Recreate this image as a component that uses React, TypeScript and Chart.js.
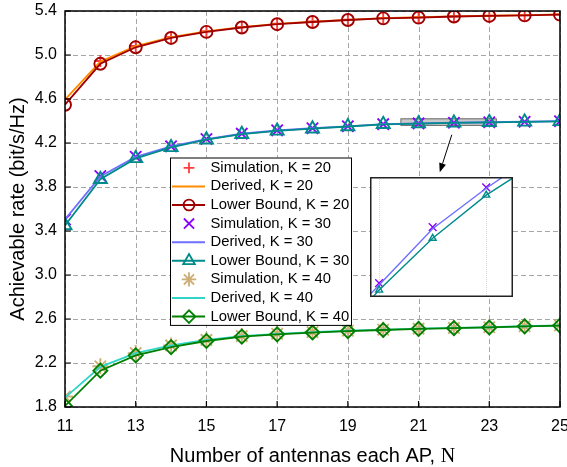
import { useEffect, useRef } from "react";
import { Chart, registerables } from "chart.js";
import { drawPoint } from "chart.js/helpers";

Chart.register(...registerables);

// ---------------- data ----------------
const antennas = [11, 12, 13, 14, 15, 16, 17, 18, 19, 20, 21, 22, 23, 24, 25];

const simK20 = [4.6, 4.945, 5.082, 5.163, 5.216, 5.255, 5.284, 5.304, 5.321, 5.336, 5.343, 5.352, 5.357, 5.362, 5.369];
const derivedK20 = [4.595, 4.94, 5.08, 5.162, 5.215, 5.254, 5.283, 5.303, 5.32, 5.335, 5.343, 5.352, 5.357, 5.362, 5.369];
const lowerK20 = [4.548, 4.92, 5.07, 5.155, 5.21, 5.25, 5.28, 5.3, 5.318, 5.333, 5.34, 5.35, 5.355, 5.36, 5.367];

const simK30 = [3.505, 3.9, 4.075, 4.17, 4.236, 4.285, 4.315, 4.334, 4.352, 4.371, 4.3778, 4.3843, 4.3889, 4.393, 4.398];
const derivedK30 = [3.505, 3.895, 4.075, 4.17, 4.235, 4.284, 4.314, 4.334, 4.352, 4.371, 4.3776, 4.3841, 4.3888, 4.393, 4.398];
const lowerK30 = [3.45, 3.87, 4.06, 4.16, 4.23, 4.28, 4.31, 4.33, 4.35, 4.37, 4.377, 4.383, 4.388, 4.392, 4.397];

const simK40 = [1.895, 2.17, 2.29, 2.36, 2.41, 2.445, 2.466, 2.481, 2.493, 2.503, 2.512, 2.519, 2.525, 2.534, 2.541];
const derivedK40 = [1.885, 2.165, 2.29, 2.36, 2.41, 2.445, 2.465, 2.48, 2.493, 2.503, 2.512, 2.519, 2.525, 2.534, 2.541];
const lowerK40 = [1.81, 2.13, 2.27, 2.345, 2.4, 2.44, 2.46, 2.477, 2.49, 2.5, 2.51, 2.517, 2.523, 2.533, 2.54];

const xTicks = [11, 13, 15, 17, 19, 21, 23, 25];
const yTicks = [1.8, 2.2, 2.6, 3.0, 3.4, 3.8, 4.2, 4.6, 5.0, 5.4];

const xTitleMain = "Number of antennas each AP, ";
const xTitleSymbol = "N";
const yTitle = "Achievable rate (bit/s/Hz)";

// zoomed region (data units) and inset ranges
const zoomBoxX = [20.5, 23.2];
const zoomBoxY = [4.36, 4.42];
const arrowFrom = [21.94, 4.275];
const arrowTo = [21.6, 3.934];
const insetXRange = [20.83, 23.5];
const insetYRange = [4.3762, 4.3901];
const insetGridX = [21, 23];

const FONT = '"Liberation Sans", Arial, Helvetica, sans-serif';
const SERIF = '"Liberation Serif", "Times New Roman", serif';

type Style = {
  color: string;
  line: boolean;
  point?: string;
  radius?: number;
  order: number;
};

function series(label: string, values: number[], s: Style) {
  return {
    label,
    data: antennas.map((n, i) => ({ x: n, y: values[i] })),
    showLine: s.line,
    borderColor: s.color,
    backgroundColor: "rgba(0,0,0,0)",
    borderWidth: 1.8,
    pointStyle: s.point || "circle",
    pointRadius: s.point ? s.radius || 6 : 0,
    pointBorderWidth: 1.9,
    pointBorderColor: s.color,
    pointBackgroundColor: "rgba(0,0,0,0)",
    pointHoverRadius: 0,
    order: s.order,
    tension: 0,
  };
}

const C = {
  sim20: "#ff3b3b",
  der20: "#ff8c00",
  low20: "#a00000",
  sim30: "#8b00ff",
  der30: "#6f6fff",
  low30: "#008b8b",
  sim40: "#cdae74",
  der40: "#30d5c8",
  low40: "#008000",
};

function buildDatasets() {
  return [
    series("Simulation, K = 20", simK20, { color: C.sim20, line: false, point: "cross", radius: 6, order: 3 }),
    series("Derived, K = 20", derivedK20, { color: C.der20, line: true, order: 2 }),
    series("Lower Bound, K = 20", lowerK20, { color: C.low20, line: true, point: "circle", radius: 6, order: 1 }),
    series("Simulation, K = 30", simK30, { color: C.sim30, line: false, point: "crossRot", radius: 8, order: 3 }),
    series("Derived, K = 30", derivedK30, { color: C.der30, line: true, order: 2 }),
    series("Lower Bound, K = 30", lowerK30, { color: C.low30, line: true, point: "triangle", radius: 7.5, order: 1 }),
    series("Simulation, K = 40", simK40, { color: C.sim40, line: false, point: "star", radius: 8, order: 3 }),
    series("Derived, K = 40", derivedK40, { color: C.der40, line: true, order: 2 }),
    series("Lower Bound, K = 40", lowerK40, { color: C.low40, line: true, point: "rectRot", radius: 7, order: 1 }),
  ];
}

const mainExtras = {
  id: "mainExtras",
  beforeDatasetsDraw(chart: any) {
    const { ctx, chartArea: a, scales } = chart;
    const x = scales.x, y = scales.y;
    ctx.save();
    // dashed grid
    ctx.strokeStyle = "#a6a6a6";
    ctx.lineWidth = 1;
    ctx.setLineDash([5, 3]);
    ctx.beginPath();
    xTicks.forEach((t) => {
      const px = Math.round(x.getPixelForValue(t)) + 0.5;
      ctx.moveTo(px, a.top);
      ctx.lineTo(px, a.bottom);
    });
    yTicks.forEach((t) => {
      const py = Math.round(y.getPixelForValue(t)) + 0.5;
      ctx.moveTo(a.left, py);
      ctx.lineTo(a.right, py);
    });
    ctx.stroke();
    ctx.setLineDash([]);
    // zoom rectangle
    const x1 = x.getPixelForValue(zoomBoxX[0]);
    const x2 = x.getPixelForValue(zoomBoxX[1]);
    const y1 = y.getPixelForValue(zoomBoxY[1]);
    const y2 = y.getPixelForValue(zoomBoxY[0]);
    ctx.fillStyle = "rgba(165,165,165,0.6)";
    ctx.fillRect(x1, y1, x2 - x1, y2 - y1);
    ctx.strokeStyle = "#6a6a6a";
    ctx.lineWidth = 1;
    ctx.strokeRect(x1, y1, x2 - x1, y2 - y1);
    ctx.restore();
  },
  afterDatasetsDraw(chart: any) {
    const { ctx, chartArea: a, scales, height } = chart;
    const x = scales.x, y = scales.y;
    ctx.save();
    // frame
    ctx.strokeStyle = "#000";
    ctx.lineWidth = 1.5;
    ctx.strokeRect(a.left, a.top, a.width, a.height);
    // inward ticks
    ctx.lineWidth = 1.2;
    ctx.beginPath();
    xTicks.forEach((t) => {
      const px = x.getPixelForValue(t);
      ctx.moveTo(px, a.bottom);
      ctx.lineTo(px, a.bottom - 6);
    });
    yTicks.forEach((t) => {
      const py = y.getPixelForValue(t);
      ctx.moveTo(a.left, py);
      ctx.lineTo(a.left + 6, py);
    });
    ctx.stroke();
    // arrow
    const ax1 = x.getPixelForValue(arrowFrom[0]);
    const ay1 = y.getPixelForValue(arrowFrom[1]);
    const ax2 = x.getPixelForValue(arrowTo[0]);
    const ay2 = y.getPixelForValue(arrowTo[1]);
    const ang = Math.atan2(ay2 - ay1, ax2 - ax1);
    const hl = 9, hw = 3.5;
    const bx = ax2 - Math.cos(ang) * hl;
    const by = ay2 - Math.sin(ang) * hl;
    ctx.strokeStyle = "#000";
    ctx.lineWidth = 1;
    ctx.beginPath();
    ctx.moveTo(ax1, ay1);
    ctx.lineTo(bx, by);
    ctx.stroke();
    ctx.fillStyle = "#000";
    ctx.beginPath();
    ctx.moveTo(ax2, ay2);
    ctx.lineTo(bx + Math.sin(ang) * hw, by - Math.cos(ang) * hw);
    ctx.lineTo(bx - Math.sin(ang) * hw, by + Math.cos(ang) * hw);
    ctx.closePath();
    ctx.fill();

    // x-axis title (sans text + serif symbol)
    ctx.fillStyle = "#000";
    ctx.textBaseline = "alphabetic";
    ctx.textAlign = "left";
    ctx.font = "20px " + FONT;
    const w1 = ctx.measureText(xTitleMain).width;
    ctx.font = "20px " + SERIF;
    const w2 = ctx.measureText(xTitleSymbol).width;
    const tx = (a.left + a.right) / 2 - (w1 + w2) / 2;
    const ty = height - 5.5;
    ctx.font = "20px " + FONT;
    ctx.fillText(xTitleMain, tx, ty);
    ctx.font = "20px " + SERIF;
    ctx.fillText(xTitleSymbol, tx + w1, ty);

    // legend
    const lx = 170, ly = 157.5, lw = 181, rowH = 18.6;
    const ds = chart.data.datasets;
    const lh = rowH * ds.length;
    ctx.fillStyle = "#fff";
    ctx.fillRect(lx, ly, lw, lh);
    ctx.strokeStyle = "#000";
    ctx.lineWidth = 1;
    ctx.strokeRect(lx + 0.5, ly + 0.5, lw, lh);
    ctx.font = "14.8px " + FONT;
    ctx.textBaseline = "middle";
    ds.forEach((d: any, i: number) => {
      const cy = ly + rowH * (i + 0.5) + 1;
      if (d.showLine) {
        ctx.strokeStyle = d.borderColor;
        ctx.lineWidth = 2;
        ctx.beginPath();
        ctx.moveTo(lx + 2, cy);
        ctx.lineTo(lx + 35, cy);
        ctx.stroke();
      }
      if (d.pointRadius > 0) {
        ctx.strokeStyle = d.pointBorderColor;
        ctx.fillStyle = "rgba(0,0,0,0)";
        ctx.lineWidth = 1.8;
        drawPoint(ctx, { pointStyle: d.pointStyle, radius: d.pointRadius * 0.9, rotation: 0, borderWidth: 1.8 }, lx + 19, cy);
      }
      ctx.fillStyle = "#000";
      ctx.fillText(d.label, lx + 40.5, cy);
    });
    ctx.restore();
  },
};

const insetExtras = {
  id: "insetExtras",
  beforeDraw(chart: any) {
    const { ctx, width, height } = chart;
    ctx.save();
    ctx.fillStyle = "#fff";
    ctx.fillRect(0, 0, width, height);
    ctx.restore();
  },
  beforeDatasetsDraw(chart: any) {
    const { ctx, chartArea: a, scales } = chart;
    ctx.save();
    ctx.strokeStyle = "#d6d6d6";
    ctx.lineWidth = 1;
    ctx.setLineDash([1, 1]);
    ctx.beginPath();
    insetGridX.forEach((t) => {
      const px = Math.round(scales.x.getPixelForValue(t)) + 0.5;
      ctx.moveTo(px, a.top);
      ctx.lineTo(px, a.bottom);
    });
    ctx.stroke();
    ctx.restore();
  },
  afterDatasetsDraw(chart: any) {
    const { ctx, width, height } = chart;
    ctx.save();
    ctx.strokeStyle = "#222";
    ctx.lineWidth = 1.5;
    ctx.strokeRect(0.75, 0.75, width - 1.5, height - 1.5);
    ctx.restore();
  },
};

export default function App() {
  const mainRef = useRef<HTMLCanvasElement>(null);
  const insetRef = useRef<HTMLCanvasElement>(null);

  useEffect(() => {
    document.body.style.margin = "0";
    const main = new Chart(mainRef.current as HTMLCanvasElement, {
      type: "scatter",
      data: { datasets: buildDatasets() as any },
      options: {
        animation: false,
        responsive: false,
        maintainAspectRatio: false,
        events: [],
        layout: { autoPadding: false, padding: { left: 0, right: 7, top: 11, bottom: 0 } },
        plugins: { legend: { display: false }, tooltip: { enabled: false } },
        scales: {
          x: {
            type: "linear",
            min: 11,
            max: 25,
            afterBuildTicks: (s: any) => {
              s.ticks = xTicks.map((v) => ({ value: v }));
            },
            afterFit: (s: any) => {
              s.height = 60;
              s.paddingLeft = 0;
              s.paddingRight = 0;
            },
            ticks: {
              color: "#000",
              font: { family: FONT, size: 16 },
              padding: 10,
              maxRotation: 0,
              autoSkip: false,
              callback: (v: any) => String(v),
            },
            grid: { display: false, drawTicks: false },
            border: { display: false },
            title: { display: false, text: xTitleMain + xTitleSymbol },
          },
          y: {
            type: "linear",
            min: 1.8,
            max: 5.4,
            afterBuildTicks: (s: any) => {
              s.ticks = yTicks.map((v) => ({ value: v }));
            },
            afterFit: (s: any) => {
              s.width = 65;
              s.paddingTop = 0;
              s.paddingBottom = 0;
            },
            ticks: {
              color: "#000",
              font: { family: FONT, size: 16 },
              padding: 8,
              autoSkip: false,
              callback: (v: any) => Number(v).toFixed(1),
            },
            grid: { display: false, drawTicks: false },
            border: { display: false },
            title: {
              display: true,
              text: yTitle,
              color: "#000",
              font: { family: FONT, size: 20 },
              padding: { top: 6.5, bottom: 0 },
            },
          },
        },
      },
      plugins: [mainExtras],
    });

    const insetSets = [
      series("Simulation, K = 30", simK30, { color: C.sim30, line: false, point: "crossRot", radius: 5.5, order: 3 }),
      series("Derived, K = 30", derivedK30, { color: C.der30, line: true, order: 2 }),
      series("Lower Bound, K = 30", lowerK30, { color: C.low30, line: true, point: "triangle", radius: 4, order: 1 }),
    ].map((d) => ({ ...d, borderWidth: 1.4, pointBorderWidth: 1.4 }));

    const inset = new Chart(insetRef.current as HTMLCanvasElement, {
      type: "scatter",
      data: { datasets: insetSets as any },
      options: {
        animation: false,
        responsive: false,
        maintainAspectRatio: false,
        events: [],
        layout: { autoPadding: false, padding: 0 },
        plugins: { legend: { display: false }, tooltip: { enabled: false } },
        scales: {
          x: { type: "linear", display: false, min: insetXRange[0], max: insetXRange[1] },
          y: { type: "linear", display: false, min: insetYRange[0], max: insetYRange[1] },
        },
      },
      plugins: [insetExtras],
    });

    return () => {
      main.destroy();
      inset.destroy();
    };
  }, []);

  return (
    <div style={{ position: "relative", width: 567, height: 467, background: "#fff" }}>
      <canvas ref={mainRef} width={567} height={467} style={{ position: "absolute", left: 0, top: 0 }} />
      <canvas ref={insetRef} width={143} height={120} style={{ position: "absolute", left: 370, top: 177 }} />
    </div>
  );
}
